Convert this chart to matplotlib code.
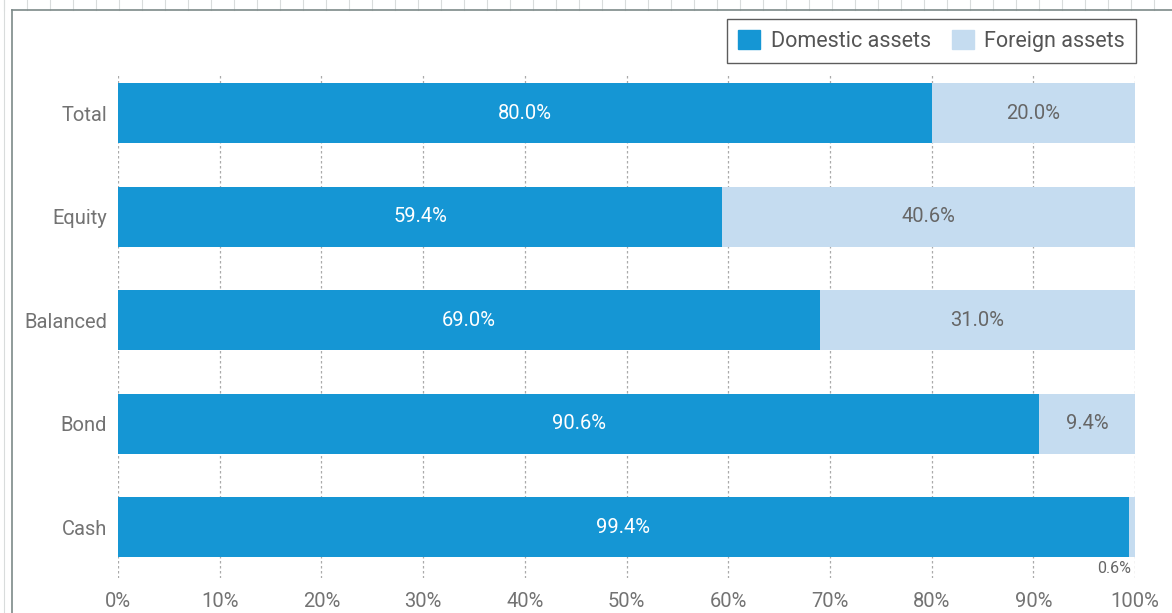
import matplotlib.pyplot as plt
from matplotlib.lines import Line2D
from matplotlib.patches import Patch

categories = ["Cash", "Bond", "Balanced", "Equity", "Total"]
domestic = [99.4, 90.6, 69.0, 59.4, 80.0]
foreign = [0.6, 9.4, 31.0, 40.6, 20.0]
ticks = [0, 10, 20, 30, 40, 50, 60, 70, 80, 90, 100]

dark = "#1596d4"
light = "#c5dcf0"
grey = "#737373"

plt.rcParams["font.family"] = ["Roboto", "DejaVu Sans"]

fig = plt.figure(figsize=(11.72, 6.13), dpi=100)
W, H = 1172, 613

# paper-like strip at the top and left, plus the frame
for xp in range(4, W, 23):
    fig.add_artist(Line2D([xp / W, xp / W], [1 - 10 / H, 1], color="#d9dcdc", lw=0.8))
fig.add_artist(Line2D([4 / W, 4 / W], [0, 1], color="#d9dcdc", lw=0.8))
fig.add_artist(Line2D([12 / W, 1], [1 - 10 / H, 1 - 10 / H], color="#7d8a89", lw=1.2))
fig.add_artist(Line2D([12 / W, 12 / W], [0, 1 - 10 / H], color="#7d8a89", lw=1.2))

ax = fig.add_axes([118 / W, 1 - 578 / H, (1135 - 118) / W, (578 - 75) / H])
y = list(range(len(categories)))
h = 0.58
ax.barh(y, domestic, height=h, color=dark, zorder=2)
ax.barh(y, foreign, left=domestic, height=h, color=light, zorder=2)

for i in y:
    ax.text(domestic[i] / 2, i, f"{domestic[i]:.1f}%", color="white",
            ha="center", va="center", fontsize=14.5, zorder=3)
    if foreign[i] >= 5:
        ax.text(domestic[i] + foreign[i] / 2, i, f"{foreign[i]:.1f}%", color="#666666",
                ha="center", va="center", fontsize=14.5, zorder=3)
    else:
        ax.text(100 - 0.4, i - h / 2 - 0.04, f"{foreign[i]:.1f}%", color="#666666",
                ha="right", va="top", fontsize=11.5, zorder=3)

ax.set_xlim(0, 100)
ax.set_ylim(-0.49, 4.37)
ax.set_xticks(ticks)
ax.set_xticklabels([f"{t}%" for t in ticks])
ax.set_yticks(y)
ax.set_yticklabels(categories)
ax.tick_params(axis="both", length=0, labelsize=14.5, labelcolor=grey)
ax.tick_params(axis="x", pad=10)
ax.tick_params(axis="y", pad=8)
ax.grid(axis="x", color="#aaaaaa", linestyle=(0, (2, 2)), lw=0.9, zorder=0)
for s in ax.spines.values():
    s.set_visible(False)

handles = [Patch(color=dark, label="Domestic assets"), Patch(color=light, label="Foreign assets")]
leg = fig.legend(handles=handles, loc="upper right", bbox_to_anchor=(1136 / W, 1 - 19 / H),
                 ncol=2, fontsize=15.5, frameon=True, fancybox=False, edgecolor="#333333",
                 handlelength=1.0, handleheight=1.0, columnspacing=1.0, handletextpad=0.5,
                 borderpad=0.5, borderaxespad=0)
leg.get_frame().set_linewidth(1.0)
for t in leg.get_texts():
    t.set_color("#555555")

fig.savefig("out.png", dpi=100, facecolor="white")
